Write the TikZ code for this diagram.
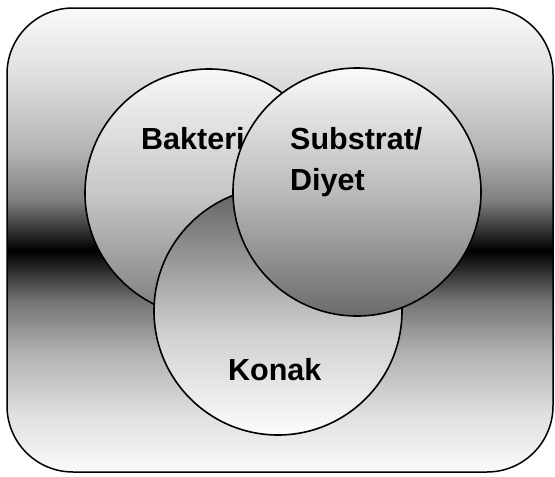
\documentclass[tikz,border=0pt]{standalone}
\usepackage{fontspec}
\setmainfont{Liberation Sans}

% background band: light at top and bottom, black in the middle
\pgfdeclareverticalshading{bgband}{100bp}{%
  color(0bp)=(black!2); color(25bp)=(black!2);
  color(31bp)=(black!12); color(37.7bp)=(black!30);
  color(43.5bp)=(black!55); color(47.9bp)=(black!92);
  color(48.9bp)=(black); color(51bp)=(black!80);
  color(54.3bp)=(black!50); color(59.5bp)=(black!30);
  color(67bp)=(black!14); color(75bp)=(black!2); color(100bp)=(black!2)}
% circle shadings
\pgfdeclareverticalshading{bakshade}{100bp}{%
  color(0bp)=(black!52); color(25bp)=(black!52);
  color(50bp)=(black!22); color(75bp)=(black!3); color(100bp)=(black!3)}
\pgfdeclareverticalshading{subshade}{100bp}{%
  color(0bp)=(black!58); color(25bp)=(black!58);
  color(50bp)=(black!27); color(75bp)=(black!2); color(100bp)=(black!2)}
\pgfdeclareverticalshading{konshade}{100bp}{%
  color(0bp)=(black!1); color(25bp)=(black!1);
  color(45bp)=(black!18); color(75bp)=(black!62); color(100bp)=(black!62)}

\tikzset{
  venn/.style={circle, draw, line width=1.6pt, minimum size=248pt, inner sep=0pt},
  lbl/.style={inner sep=0pt, font=\fontsize{30.5}{41}\selectfont\bfseries}
}

\begin{document}
\begin{tikzpicture}[x=1pt,y=-1pt]
  \useasboundingbox (0,0) rectangle (555,477);

  % frame
  \draw[line width=1.5pt, rounded corners=66pt, shading=bgband] (7,8) rectangle (553,472);

  % Bakteri
  \node[venn, shading=bakshade] (bakteri) at (209,193) {};
  \node[lbl, anchor=base west] (bakterilbl) at (141,149) {Bakteri};

  % Konak
  \node[venn, shading=konshade] (konak) at (278,311) {};
  \node[lbl, anchor=base west] (konaklbl) at (228,380) {Konak};

  % Substrat / Diyet
  \node[venn, shading=subshade] (substrat) at (357,192) {};
  \node[lbl, anchor=base west, align=left] (substratlbl) at (290,190) {Substrat/\\Diyet};
\end{tikzpicture}
\end{document}
